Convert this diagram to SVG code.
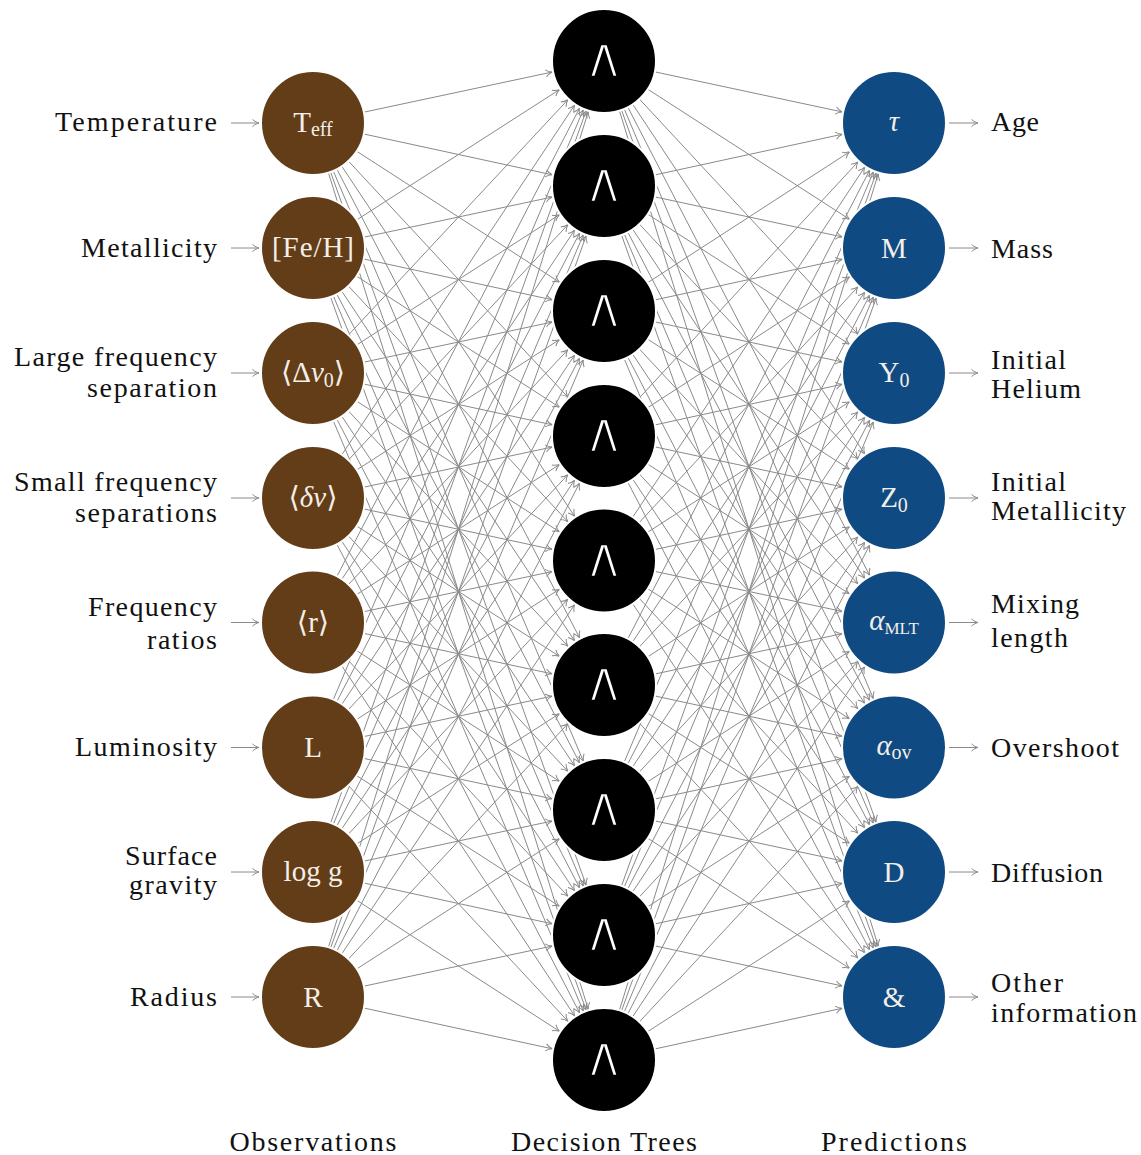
<svg xmlns="http://www.w3.org/2000/svg" width="1141" height="1155" viewBox="0 0 1141 1155">
<style>
.e{fill:none;stroke:#8a8a8a;stroke-width:1;marker-end:url(#ah)}
.a{fill:none;stroke:#8a8a8a;stroke-width:1;marker-end:url(#ah0)}
.lbl{font-family:"Liberation Serif","DejaVu Serif",serif;font-size:28px;fill:#111}
.r{text-anchor:end}
.c{text-anchor:middle}
.nl{font-family:"Liberation Serif","DejaVu Serif",serif;font-size:29px;fill:#f3efe8;text-anchor:middle}
.obs{fill:#633d17;stroke:#fff;stroke-width:2}
.tree{fill:#000;stroke:#fff;stroke-width:2}
.pred{fill:#104a82;stroke:#fff;stroke-width:2}
.w{font-family:"DejaVu Sans",sans-serif;font-size:44px;fill:#fff;stroke:#000;stroke-width:2;text-anchor:middle}
.sub{font-size:20px}
</style>
<defs>
<marker id="ah" markerUnits="userSpaceOnUse" markerWidth="10" markerHeight="10" orient="auto" refX="0" refY="0" overflow="visible">
<path d="M-59.5 -3.6 C-57.5 -1.6 -54.5 -0.4 -53 0 C-54.5 0.4 -57.5 1.6 -59.5 3.6" fill="none" stroke="#8a8a8a" stroke-width="1"/>
</marker>
<marker id="ah0" markerUnits="userSpaceOnUse" markerWidth="10" markerHeight="10" orient="auto" refX="0" refY="0" overflow="visible">
<path d="M-6.5 -3.6 C-4.5 -1.6 -1.5 -0.4 0 0 C-1.5 0.4 -4.5 1.6 -6.5 3.6" fill="none" stroke="#8a8a8a" stroke-width="1"/>
</marker>
</defs>
<g id="connectors">
<path class="a" d="M231 123L259 123"/>
<path class="a" d="M231 248L259 248"/>
<path class="a" d="M231 373L259 373"/>
<path class="a" d="M231 498L259 498"/>
<path class="a" d="M231 622.5L259 622.5"/>
<path class="a" d="M231 747.5L259 747.5"/>
<path class="a" d="M231 872L259 872"/>
<path class="a" d="M231 997L259 997"/>
<path class="a" d="M949 123L978 123"/>
<path class="a" d="M949 248L978 248"/>
<path class="a" d="M949 373L978 373"/>
<path class="a" d="M949 498L978 498"/>
<path class="a" d="M949 622.5L978 622.5"/>
<path class="a" d="M949 747.5L978 747.5"/>
<path class="a" d="M949 872L978 872"/>
<path class="a" d="M949 997L978 997"/>
<path class="e" d="M313 123L604 61"/><path class="e" d="M313 123L604 186"/><path class="e" d="M313 123L604 311"/><path class="e" d="M313 123L604 436"/><path class="e" d="M313 123L604 560.5"/><path class="e" d="M313 123L604 685"/><path class="e" d="M313 123L604 810"/><path class="e" d="M313 123L604 935"/><path class="e" d="M313 123L604 1060"/>
<path class="e" d="M313 248L604 61"/><path class="e" d="M313 248L604 186"/><path class="e" d="M313 248L604 311"/><path class="e" d="M313 248L604 436"/><path class="e" d="M313 248L604 560.5"/><path class="e" d="M313 248L604 685"/><path class="e" d="M313 248L604 810"/><path class="e" d="M313 248L604 935"/><path class="e" d="M313 248L604 1060"/>
<path class="e" d="M313 373L604 61"/><path class="e" d="M313 373L604 186"/><path class="e" d="M313 373L604 311"/><path class="e" d="M313 373L604 436"/><path class="e" d="M313 373L604 560.5"/><path class="e" d="M313 373L604 685"/><path class="e" d="M313 373L604 810"/><path class="e" d="M313 373L604 935"/><path class="e" d="M313 373L604 1060"/>
<path class="e" d="M313 498L604 61"/><path class="e" d="M313 498L604 186"/><path class="e" d="M313 498L604 311"/><path class="e" d="M313 498L604 436"/><path class="e" d="M313 498L604 560.5"/><path class="e" d="M313 498L604 685"/><path class="e" d="M313 498L604 810"/><path class="e" d="M313 498L604 935"/><path class="e" d="M313 498L604 1060"/>
<path class="e" d="M313 622.5L604 61"/><path class="e" d="M313 622.5L604 186"/><path class="e" d="M313 622.5L604 311"/><path class="e" d="M313 622.5L604 436"/><path class="e" d="M313 622.5L604 560.5"/><path class="e" d="M313 622.5L604 685"/><path class="e" d="M313 622.5L604 810"/><path class="e" d="M313 622.5L604 935"/><path class="e" d="M313 622.5L604 1060"/>
<path class="e" d="M313 747.5L604 61"/><path class="e" d="M313 747.5L604 186"/><path class="e" d="M313 747.5L604 311"/><path class="e" d="M313 747.5L604 436"/><path class="e" d="M313 747.5L604 560.5"/><path class="e" d="M313 747.5L604 685"/><path class="e" d="M313 747.5L604 810"/><path class="e" d="M313 747.5L604 935"/><path class="e" d="M313 747.5L604 1060"/>
<path class="e" d="M313 872L604 61"/><path class="e" d="M313 872L604 186"/><path class="e" d="M313 872L604 311"/><path class="e" d="M313 872L604 436"/><path class="e" d="M313 872L604 560.5"/><path class="e" d="M313 872L604 685"/><path class="e" d="M313 872L604 810"/><path class="e" d="M313 872L604 935"/><path class="e" d="M313 872L604 1060"/>
<path class="e" d="M313 997L604 61"/><path class="e" d="M313 997L604 186"/><path class="e" d="M313 997L604 311"/><path class="e" d="M313 997L604 436"/><path class="e" d="M313 997L604 560.5"/><path class="e" d="M313 997L604 685"/><path class="e" d="M313 997L604 810"/><path class="e" d="M313 997L604 935"/><path class="e" d="M313 997L604 1060"/>
<path class="e" d="M604 61L894 123"/><path class="e" d="M604 61L894 248"/><path class="e" d="M604 61L894 373"/><path class="e" d="M604 61L894 498"/><path class="e" d="M604 61L894 622.5"/><path class="e" d="M604 61L894 747.5"/><path class="e" d="M604 61L894 872"/><path class="e" d="M604 61L894 997"/>
<path class="e" d="M604 186L894 123"/><path class="e" d="M604 186L894 248"/><path class="e" d="M604 186L894 373"/><path class="e" d="M604 186L894 498"/><path class="e" d="M604 186L894 622.5"/><path class="e" d="M604 186L894 747.5"/><path class="e" d="M604 186L894 872"/><path class="e" d="M604 186L894 997"/>
<path class="e" d="M604 311L894 123"/><path class="e" d="M604 311L894 248"/><path class="e" d="M604 311L894 373"/><path class="e" d="M604 311L894 498"/><path class="e" d="M604 311L894 622.5"/><path class="e" d="M604 311L894 747.5"/><path class="e" d="M604 311L894 872"/><path class="e" d="M604 311L894 997"/>
<path class="e" d="M604 436L894 123"/><path class="e" d="M604 436L894 248"/><path class="e" d="M604 436L894 373"/><path class="e" d="M604 436L894 498"/><path class="e" d="M604 436L894 622.5"/><path class="e" d="M604 436L894 747.5"/><path class="e" d="M604 436L894 872"/><path class="e" d="M604 436L894 997"/>
<path class="e" d="M604 560.5L894 123"/><path class="e" d="M604 560.5L894 248"/><path class="e" d="M604 560.5L894 373"/><path class="e" d="M604 560.5L894 498"/><path class="e" d="M604 560.5L894 622.5"/><path class="e" d="M604 560.5L894 747.5"/><path class="e" d="M604 560.5L894 872"/><path class="e" d="M604 560.5L894 997"/>
<path class="e" d="M604 685L894 123"/><path class="e" d="M604 685L894 248"/><path class="e" d="M604 685L894 373"/><path class="e" d="M604 685L894 498"/><path class="e" d="M604 685L894 622.5"/><path class="e" d="M604 685L894 747.5"/><path class="e" d="M604 685L894 872"/><path class="e" d="M604 685L894 997"/>
<path class="e" d="M604 810L894 123"/><path class="e" d="M604 810L894 248"/><path class="e" d="M604 810L894 373"/><path class="e" d="M604 810L894 498"/><path class="e" d="M604 810L894 622.5"/><path class="e" d="M604 810L894 747.5"/><path class="e" d="M604 810L894 872"/><path class="e" d="M604 810L894 997"/>
<path class="e" d="M604 935L894 123"/><path class="e" d="M604 935L894 248"/><path class="e" d="M604 935L894 373"/><path class="e" d="M604 935L894 498"/><path class="e" d="M604 935L894 622.5"/><path class="e" d="M604 935L894 747.5"/><path class="e" d="M604 935L894 872"/><path class="e" d="M604 935L894 997"/>
<path class="e" d="M604 1060L894 123"/><path class="e" d="M604 1060L894 248"/><path class="e" d="M604 1060L894 373"/><path class="e" d="M604 1060L894 498"/><path class="e" d="M604 1060L894 622.5"/><path class="e" d="M604 1060L894 747.5"/><path class="e" d="M604 1060L894 872"/><path class="e" d="M604 1060L894 997"/>
</g>
<g id="input-labels">
<g id="in-temperature"><text class="lbl r" x="217" y="131" textLength="162">Temperature</text></g>
<g id="in-metallicity"><text class="lbl r" x="217" y="256.5" textLength="136">Metallicity</text></g>
<g id="in-large"><text class="lbl r" x="217" y="366" textLength="203">Large frequency</text><text class="lbl r" x="217" y="397" textLength="130">separation</text></g>
<g id="in-small"><text class="lbl r" x="217" y="491" textLength="203">Small frequency</text><text class="lbl r" x="217" y="522" textLength="142">separations</text></g>
<g id="in-ratios"><text class="lbl r" x="217" y="615.5" textLength="129">Frequency</text><text class="lbl r" x="217" y="648.5" textLength="70">ratios</text></g>
<g id="in-luminosity"><text class="lbl r" x="217" y="755.5" textLength="142">Luminosity</text></g>
<g id="in-gravity"><text class="lbl r" x="217" y="865" textLength="92">Surface</text><text class="lbl r" x="217" y="894" textLength="88">gravity</text></g>
<g id="in-radius"><text class="lbl r" x="217" y="1006" textLength="87">Radius</text></g>
</g>
<g id="observations">
<g id="obs-teff"><circle class="obs" cx="313" cy="123" r="52"/><text class="nl" x="313" y="132">T<tspan class="sub" dy="4">eff</tspan></text></g>
<g id="obs-feh"><circle class="obs" cx="313" cy="248" r="52"/><text class="nl" x="313" y="257" textLength="82">[Fe/H]</text></g>
<g id="obs-dnu"><circle class="obs" cx="313" cy="373" r="52"/><text class="nl" x="313" y="382">⟨Δ<tspan font-style="italic">ν</tspan><tspan class="sub" dy="5">0</tspan><tspan dy="-5">⟩</tspan></text></g>
<g id="obs-dnu-small"><circle class="obs" cx="313" cy="498" r="52"/><text class="nl" x="313" y="507">⟨<tspan font-style="italic">δν</tspan>⟩</text></g>
<g id="obs-r"><circle class="obs" cx="313" cy="622.5" r="52"/><text class="nl" x="313" y="631.5">⟨r⟩</text></g>
<g id="obs-l"><circle class="obs" cx="313" cy="747.5" r="52"/><text class="nl" x="313" y="757">L</text></g>
<g id="obs-logg"><circle class="obs" cx="313" cy="872" r="52"/><text class="nl" x="313" y="881">log g</text></g>
<g id="obs-r2"><circle class="obs" cx="313" cy="997" r="52"/><text class="nl" x="313" y="1006.5">R</text></g>
</g>
<g id="trees">
<g id="tree-1"><circle class="tree" cx="604" cy="61" r="52"/><text class="w" transform="translate(604 77) scale(1.35 1.3)">∧</text></g>
<g id="tree-2"><circle class="tree" cx="604" cy="186" r="52"/><text class="w" transform="translate(604 202) scale(1.35 1.3)">∧</text></g>
<g id="tree-3"><circle class="tree" cx="604" cy="311" r="52"/><text class="w" transform="translate(604 327) scale(1.35 1.3)">∧</text></g>
<g id="tree-4"><circle class="tree" cx="604" cy="436" r="52"/><text class="w" transform="translate(604 452) scale(1.35 1.3)">∧</text></g>
<g id="tree-5"><circle class="tree" cx="604" cy="560.5" r="52"/><text class="w" transform="translate(604 576.5) scale(1.35 1.3)">∧</text></g>
<g id="tree-6"><circle class="tree" cx="604" cy="685" r="52"/><text class="w" transform="translate(604 701) scale(1.35 1.3)">∧</text></g>
<g id="tree-7"><circle class="tree" cx="604" cy="810" r="52"/><text class="w" transform="translate(604 826) scale(1.35 1.3)">∧</text></g>
<g id="tree-8"><circle class="tree" cx="604" cy="935" r="52"/><text class="w" transform="translate(604 951) scale(1.35 1.3)">∧</text></g>
<g id="tree-9"><circle class="tree" cx="604" cy="1060" r="52"/><text class="w" transform="translate(604 1076) scale(1.35 1.3)">∧</text></g>
</g>
<g id="predictions">
<g id="pred-tau"><circle class="pred" cx="894" cy="123" r="52"/><text class="nl" x="894" y="131" font-style="italic">τ</text></g>
<g id="pred-m"><circle class="pred" cx="894" cy="248" r="52"/><text class="nl" x="894" y="257.5">M</text></g>
<g id="pred-y0"><circle class="pred" cx="894" cy="373" r="52"/><text class="nl" x="894" y="382">Y<tspan class="sub" dy="5">0</tspan></text></g>
<g id="pred-z0"><circle class="pred" cx="894" cy="498" r="52"/><text class="nl" x="894" y="507">Z<tspan class="sub" dy="5">0</tspan></text></g>
<g id="pred-amlt"><circle class="pred" cx="894" cy="622.5" r="52"/><text class="nl" x="894" y="630"><tspan font-style="italic">α</tspan><tspan font-size="17" dy="4">MLT</tspan></text></g>
<g id="pred-aov"><circle class="pred" cx="894" cy="747.5" r="52"/><text class="nl" x="894" y="755"><tspan font-style="italic">α</tspan><tspan class="sub" dy="4">ov</tspan></text></g>
<g id="pred-d"><circle class="pred" cx="894" cy="872" r="52"/><text class="nl" x="894" y="881.5">D</text></g>
<g id="pred-amp"><circle class="pred" cx="894" cy="997" r="52"/><text class="nl" x="894" y="1006.5">&amp;</text></g>
</g>
<g id="output-labels">
<g id="out-age"><text class="lbl" x="991" y="131" textLength="48">Age</text></g>
<g id="out-mass"><text class="lbl" x="991" y="257.5" textLength="62">Mass</text></g>
<g id="out-helium"><text class="lbl" x="991" y="369" textLength="75">Initial</text><text class="lbl" x="991" y="398" textLength="90">Helium</text></g>
<g id="out-metal"><text class="lbl" x="991" y="491" textLength="75">Initial</text><text class="lbl" x="991" y="520" textLength="135">Metallicity</text></g>
<g id="out-mixing"><text class="lbl" x="991" y="613" textLength="88">Mixing</text><text class="lbl" x="991" y="646.5" textLength="77">length</text></g>
<g id="out-overshoot"><text class="lbl" x="991" y="757" textLength="128">Overshoot</text></g>
<g id="out-diffusion"><text class="lbl" x="991" y="881.5" textLength="112">Diffusion</text></g>
<g id="out-other"><text class="lbl" x="991" y="992" textLength="72">Other</text><text class="lbl" x="991" y="1021.5" textLength="146">information</text></g>
</g>
<g id="column-titles">
<text class="lbl c" x="313" y="1151" textLength="167">Observations</text>
<text class="lbl c" x="604" y="1151" textLength="186">Decision Trees</text>
<text class="lbl c" x="894" y="1151" textLength="146">Predictions</text>
</g>
</svg>
